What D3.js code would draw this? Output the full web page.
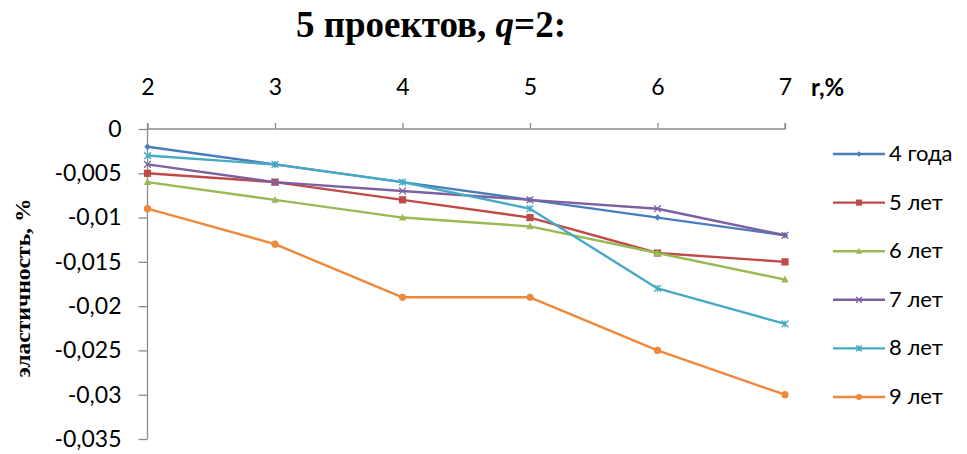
<!DOCTYPE html>
<html>
<head>
<meta charset="utf-8">
<script src="https://cdn.jsdelivr.net/npm/d3@7/dist/d3.min.js"></script>
<style>
  html, body { margin: 0; padding: 0; background: #fff; }
  svg { display: block; }
</style>
</head>
<body>
<svg id="chart" width="967" height="454"></svg>
<script>
// Interest rate r, %
const rates = [2, 3, 4, 5, 6, 7];
const yTicks = [0, -0.005, -0.01, -0.015, -0.02, -0.025, -0.03, -0.035];

// Elasticity by project horizon
const seriesNames = ["4 года", "5 лет", "6 лет", "7 лет", "8 лет", "9 лет"];
const years4 = [-0.002, -0.004, -0.006, -0.008, -0.010, -0.012];
const years5 = [-0.005, -0.006, -0.008, -0.010, -0.014, -0.015];
const years6 = [-0.006, -0.008, -0.010, -0.011, -0.014, -0.017];
const years7 = [-0.004, -0.006, -0.007, -0.008, -0.009, -0.012];
const years8 = [-0.003, -0.004, -0.006, -0.009, -0.018, -0.022];
const years9 = [-0.009, -0.013, -0.019, -0.019, -0.025, -0.030];

const colors = ["#4A7EBB", "#BE4B48", "#98B954", "#7D60A0", "#46AAC5", "#F0883A"];
const markers = ["diamond", "square", "triangle", "cross", "star", "circle"];

const seriesValues = [years4, years5, years6, years7, years8, years9];
const series = seriesNames.map((name, i) => ({
  name, color: colors[i], marker: markers[i],
  points: rates.map((r, j) => ({ r, v: seriesValues[i][j] }))
}));

const svg = d3.select("#chart");
const tickFont = "Lato, 'Open Sans', sans-serif";
const serifFont = "'Liberation Serif', 'DejaVu Serif', serif";

const x = d3.scalePoint().domain(rates).range([147.5, 785]);
const y = d3.scaleLinear().domain([-0.035, 0]).range([439, 129]);

// Title
svg.append("text")
  .attr("x", 431).attr("y", 37)
  .attr("text-anchor", "middle")
  .style("font-family", serifFont)
  .style("font-weight", "bold")
  .style("font-size", "37px")
  .attr("fill", "#000")
  .call(t => {
    t.append("tspan").text("5 проектов, ");
    t.append("tspan").style("font-style", "italic").text("q");
    t.append("tspan").text("=2:");
  });

// X axis along the zero line, ticks and labels above
const xAxis = svg.append("g")
  .attr("transform", `translate(0,${y(0)})`)
  .call(d3.axisTop(x).tickSize(6).tickPadding(28).tickFormat(d => d));
xAxis.select(".domain").attr("stroke", "#8c8c8c").attr("stroke-width", 1.3)
  .attr("d", `M${x(2)},-6V0H${x(7)}V-6`);
xAxis.selectAll(".tick line").attr("stroke", "#8c8c8c").attr("stroke-width", 1.3);
xAxis.selectAll(".tick text")
  .style("font-family", tickFont).style("font-size", "23px").attr("fill", "#000");

// Y axis
const fmt = d => d === 0 ? "0" : String(+d.toFixed(3)).replace(".", ",");
const yAxis = svg.append("g")
  .attr("transform", `translate(${x(2)},0)`)
  .call(d3.axisLeft(y).tickValues(yTicks).tickSize(9).tickPadding(17).tickFormat(fmt));
yAxis.select(".domain").attr("stroke", "#8c8c8c").attr("stroke-width", 1.3)
  .attr("d", `M0,${y(0)}V${y(-0.035)}`);
yAxis.selectAll(".tick line").attr("stroke", "#8c8c8c").attr("stroke-width", 1.3);
yAxis.selectAll(".tick text")
  .style("font-family", tickFont).style("font-size", "23px").attr("fill", "#000");

// Axis titles
svg.append("text")
  .attr("x", 811).attr("y", 96)
  .style("font-family", tickFont).style("font-weight", "bold").style("font-size", "24px")
  .attr("fill", "#000").text("r,%");

svg.append("text")
  .attr("transform", `translate(30,288) rotate(-90)`)
  .attr("text-anchor", "middle")
  .attr("textLength", 179).attr("lengthAdjust", "spacingAndGlyphs")
  .style("font-family", serifFont)
  .style("font-weight", "bold").style("font-size", "21px")
  .attr("fill", "#000").text("эластичность, %");

// Marker shapes
function drawMarker(g, type, color, size) {
  const s = size;
  if (type === "diamond") {
    g.append("path").attr("d", `M0,${-s}L${s},0L0,${s}L${-s},0Z`).attr("fill", color);
  } else if (type === "square") {
    g.append("rect").attr("x", -s).attr("y", -s).attr("width", 2 * s).attr("height", 2 * s).attr("fill", color);
  } else if (type === "triangle") {
    g.append("path").attr("d", `M0,${-s * 1.1}L${s},${s * 0.8}L${-s},${s * 0.8}Z`).attr("fill", color);
  } else if (type === "cross") {
    g.append("path").attr("d", `M${-s},${-s}L${s},${s}M${-s},${s}L${s},${-s}`)
      .attr("stroke", color).attr("stroke-width", 1.3);
  } else if (type === "star") {
    g.append("path").attr("d", `M${-s},${-s}L${s},${s}M${-s},${s}L${s},${-s}M0,${-s}V${s}`)
      .attr("stroke", color).attr("stroke-width", 1.3);
  } else if (type === "circle") {
    g.append("circle").attr("r", s).attr("fill", color);
  }
}
const markerSize = { diamond: 3.2, square: 3.6, triangle: 3.6, cross: 3.4, star: 3.4, circle: 3.6 };

const line = d3.line().x(d => x(d.r)).y(d => y(d.v));
const plot = svg.append("g");
series.forEach(s => {
  plot.append("path")
    .attr("d", line(s.points))
    .attr("fill", "none").attr("stroke", s.color)
    .attr("stroke-width", 2.4).attr("stroke-linejoin", "round");
  s.points.forEach(p => {
    const g = plot.append("g").attr("transform", `translate(${x(p.r)},${y(p.v)})`);
    drawMarker(g, s.marker, s.color, markerSize[s.marker]);
  });
});

// Legend
const legend = svg.append("g");
const legendY = d3.scalePoint().domain(seriesNames).range([154, 397]);
series.forEach(s => {
  const gy = legendY(s.name);
  legend.append("line")
    .attr("x1", 833).attr("x2", 885).attr("y1", gy).attr("y2", gy)
    .attr("stroke", s.color).attr("stroke-width", 2.4);
  const g = legend.append("g").attr("transform", `translate(859,${gy})`);
  drawMarker(g, s.marker, s.color, markerSize[s.marker] * 0.85);
  legend.append("text")
    .attr("x", 889).attr("y", gy + 7)
    .style("font-family", tickFont).style("font-size", "22px")
    .attr("fill", "#000").text(s.name);
});
</script>
</body>
</html>
